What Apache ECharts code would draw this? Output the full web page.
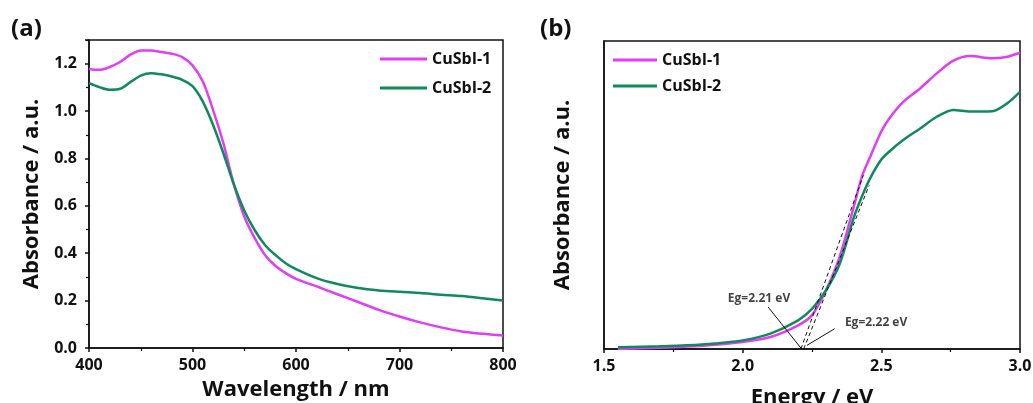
<!DOCTYPE html>
<html><head><meta charset="utf-8">
<script src="https://cdn.jsdelivr.net/npm/echarts@6/dist/echarts.min.js"></script>
<style>html,body{margin:0;padding:0;background:#fff}#c{width:1033px;height:403px}</style>
</head><body><div id="c"></div>
<script>
// Panel (a): UV-vis absorbance vs wavelength
const wavelength = [400,410,420,430,440,450,460,470,480,490,500,510,520,530,540,550,560,570,580,590,600,620,640,660,680,700,720,740,760,780,800];
const absA1 = [1.178,1.174,1.186,1.207,1.238,1.256,1.256,1.249,1.242,1.228,1.193,1.125,1.003,0.862,0.69,0.555,0.465,0.393,0.347,0.316,0.292,0.26,0.227,0.194,0.161,0.133,0.108,0.087,0.07,0.06,0.053];
const absA2 = [1.118,1.101,1.09,1.094,1.122,1.15,1.16,1.155,1.146,1.132,1.105,1.04,0.94,0.82,0.69,0.58,0.498,0.435,0.393,0.358,0.333,0.295,0.27,0.253,0.243,0.237,0.232,0.225,0.219,0.21,0.2];
// Panel (b): absorbance vs energy (normalized)
const energy = [1.55,1.7,1.8,1.9,2.0,2.1,2.2,2.25,2.3,2.35,2.4,2.43,2.46,2.5,2.53,2.58,2.64,2.7,2.76,2.82,2.9,2.95,3.0];
const absB1 = [0.0,0.004,0.008,0.014,0.023,0.039,0.077,0.11,0.19,0.30,0.46,0.56,0.624,0.706,0.75,0.803,0.846,0.895,0.936,0.951,0.944,0.948,0.962];
const absB2 = [0.006,0.009,0.012,0.018,0.028,0.05,0.093,0.13,0.19,0.277,0.425,0.495,0.555,0.615,0.642,0.679,0.716,0.754,0.776,0.771,0.772,0.795,0.835];
const names = ['CuSbI-1','CuSbI-2'];
const tangent1 = [[2.21,0.0],[2.435,0.564]];
const tangent2 = [[2.22,0.0],[2.456,0.531]];
const pointer1 = [[2.092,0.136],[2.212,0.001]];
const pointer2 = [[2.332,0.066],[2.232,0.012]];
const egLabels = [{pos:[2.059,0.163], text:'Eg=2.21 eV'},{pos:[2.481,0.085], text:'Eg=2.22 eV'}];

const C1 = '#E23DF6', C2 = '#0E8A5C';
const FF = '"Open Sans", "DejaVu Sans", sans-serif';
const zip = (xs, ys) => xs.map((x,i)=>[x,ys[i]]);
const tickLbl = {fontFamily:FF, fontWeight:'bold', fontSize:16, color:'#111'};
const nameStyle = {fontFamily:FF, fontWeight:'bold', fontSize:22, color:'#111'};

const chart = echarts.init(document.getElementById('c'), null, {renderer:'canvas'});
chart.setOption({
  animation:false,
  backgroundColor:'#fff',
  title:[
    {text:'(a)', left:6, top:12, textStyle:{fontFamily:FF, fontWeight:'bold', fontSize:24, color:'#111'}},
    {text:'(b)', left:535, top:12, textStyle:{fontFamily:FF, fontWeight:'bold', fontSize:24, color:'#111'}}
  ],
  legend:[
    {data:names, orient:'vertical', left:375, top:46, itemWidth:47, itemHeight:3, icon:'rect', itemGap:13,
     textStyle:{fontFamily:FF, fontWeight:'bold', fontSize:16, color:'#111'}},
    {data:names, orient:'vertical', left:608, top:47, itemWidth:44, itemHeight:3, icon:'rect', itemGap:10,
     textStyle:{fontFamily:FF, fontWeight:'bold', fontSize:16, color:'#111'}}
  ],
  grid:[
    {left:89, right:530, top:40, bottom:55, show:true, borderColor:'#111', borderWidth:1.5, containLabel:false, outerBoundsMode:'none'},
    {left:604, right:13, top:41, bottom:54, show:true, borderColor:'#111', borderWidth:1.5, containLabel:false, outerBoundsMode:'none'}
  ],
  xAxis:[
    {gridIndex:0, type:'value', min:400, max:800, interval:100,
     name:'Wavelength / nm', nameLocation:'middle', nameGap:31, nameTextStyle:nameStyle,
     axisLine:{show:true, lineStyle:{color:'#111', width:1.5}},
     axisTick:{show:true, length:4, lineStyle:{color:'#111', width:1.5}},
     minorTick:{show:true, splitNumber:2, length:3, lineStyle:{color:'#111', width:1.2}},
     splitLine:{show:false},
     axisLabel:Object.assign({margin:9}, tickLbl)},
    {gridIndex:1, type:'value', min:1.5, max:3.0, interval:0.5,
     name:'Energy / eV', nameLocation:'middle', nameGap:38, nameTextStyle:nameStyle,
     axisLine:{show:true, lineStyle:{color:'#111', width:1.5}},
     axisTick:{show:true, length:4, lineStyle:{color:'#111', width:1.5}},
     minorTick:{show:true, splitNumber:2, length:3, lineStyle:{color:'#111', width:1.2}},
     splitLine:{show:false},
     axisLabel:Object.assign({margin:9, formatter:v=>v.toFixed(1)}, tickLbl)}
  ],
  yAxis:[
    {gridIndex:0, type:'value', min:0, max:1.3, interval:0.2,
     name:'Absorbance / a.u.', nameLocation:'middle', nameGap:46, nameTextStyle:nameStyle,
     axisLine:{show:true, lineStyle:{color:'#111', width:1.5}},
     axisTick:{show:true, length:4, lineStyle:{color:'#111', width:1.5}},
     minorTick:{show:true, splitNumber:2, length:3, lineStyle:{color:'#111', width:1.2}},
     splitLine:{show:false},
     axisLabel:Object.assign({margin:12, showMaxLabel:false, formatter:v=>v.toFixed(1)}, tickLbl)},
    {gridIndex:1, type:'value', min:0, max:1,
     name:'Absorbance / a.u.', nameLocation:'middle', nameGap:30, nameTextStyle:nameStyle,
     axisLine:{show:true, lineStyle:{color:'#111', width:1.5}},
     axisTick:{show:false}, axisLabel:{show:false}, splitLine:{show:false}}
  ],
  series:[
    {name:names[0], type:'line', xAxisIndex:0, yAxisIndex:0, data:zip(wavelength,absA1), smooth:0.3, showSymbol:false, symbol:'none', lineStyle:{color:C1, width:2.5}, itemStyle:{color:C1}},
    {name:names[1], type:'line', xAxisIndex:0, yAxisIndex:0, data:zip(wavelength,absA2), smooth:0.3, showSymbol:false, symbol:'none', lineStyle:{color:C2, width:2.5}, itemStyle:{color:C2}},
    {name:names[0], type:'line', xAxisIndex:1, yAxisIndex:1, data:zip(energy,absB1), smooth:0.3, showSymbol:false, symbol:'none', lineStyle:{color:C1, width:2.5}, itemStyle:{color:C1}},
    {name:names[1], type:'line', xAxisIndex:1, yAxisIndex:1, data:zip(energy,absB2), smooth:0.3, showSymbol:false, symbol:'none', lineStyle:{color:C2, width:2.5}, itemStyle:{color:C2}},
    {type:'line', xAxisIndex:1, yAxisIndex:1, data:tangent1, symbol:'none', lineStyle:{color:'#111', width:1, type:[4,3]}, z:5},
    {type:'line', xAxisIndex:1, yAxisIndex:1, data:tangent2, symbol:'none', lineStyle:{color:'#111', width:1, type:[4,3]}, z:5},
    {type:'line', xAxisIndex:1, yAxisIndex:1, data:pointer1, symbol:'none', lineStyle:{color:'#111', width:1}, z:5},
    {type:'line', xAxisIndex:1, yAxisIndex:1, data:pointer2, symbol:'none', lineStyle:{color:'#111', width:1}, z:5},
    {type:'scatter', xAxisIndex:1, yAxisIndex:1, symbolSize:0, z:6,
     data:egLabels.map(d=>({value:d.pos, label:{show:true, position:'inside', formatter:d.text,
       fontFamily:FF, fontWeight:'bold', fontSize:12, color:'#111'}}))}
  ]
});
</script></body></html>
